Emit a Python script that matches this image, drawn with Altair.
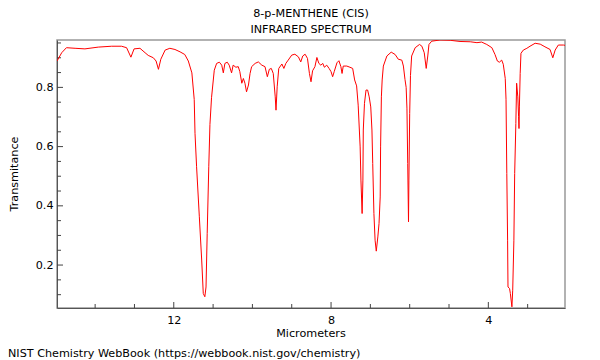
import altair as alt
import pandas as pd

# ---- data ----
wavelength_um = [
    14.97, 14.85, 14.73, 14.51, 14.26, 13.92, 13.58, 13.33, 13.20, 13.09,
    13.01, 12.86, 12.73, 12.65, 12.52, 12.45, 12.39, 12.33, 12.22, 12.10,
    11.97, 11.84, 11.72, 11.63, 11.54, 11.48, 11.46, 11.42, 11.35, 11.29,
    11.25, 11.21, 11.18, 11.15, 11.11, 11.08, 11.04, 10.97, 10.91, 10.84,
    10.78, 10.74, 10.70, 10.64, 10.59, 10.53, 10.49, 10.42, 10.36, 10.32,
    10.27, 10.23, 10.19, 10.15, 10.10, 10.06, 10.02, 9.93, 9.85, 9.76,
    9.68, 9.62, 9.57, 9.52, 9.47, 9.42, 9.40, 9.37, 9.33, 9.25,
    9.20, 9.15, 9.09, 9.00, 8.92, 8.83, 8.77, 8.72, 8.66, 8.60,
    8.55, 8.51, 8.47, 8.41, 8.36, 8.31, 8.26, 8.21, 8.17, 8.11,
    8.05, 8.00, 7.96, 7.92, 7.85, 7.80, 7.75, 7.72, 7.69, 7.60,
    7.52, 7.45, 7.40, 7.35, 7.31, 7.26, 7.24, 7.21, 7.19, 7.18,
    7.15, 7.11, 7.07, 7.03, 6.99, 6.96, 6.94, 6.91, 6.88, 6.85,
    6.81, 6.78, 6.75, 6.74, 6.72, 6.70, 6.67, 6.58, 6.47, 6.37,
    6.29, 6.20, 6.16, 6.12, 6.09, 6.07, 6.05, 6.03, 6.02, 6.00,
    5.98, 5.95, 5.86, 5.75, 5.69, 5.63, 5.58, 5.54, 5.51, 5.44,
    5.23, 4.97, 4.72, 4.46, 4.29, 4.17, 4.04, 3.91, 3.83, 3.77,
    3.72, 3.66, 3.62, 3.57, 3.55, 3.53, 3.51, 3.50, 3.46, 3.44,
    3.40, 3.38, 3.35, 3.33, 3.30, 3.28, 3.25, 3.23, 3.22, 3.21,
    3.19, 3.17, 3.11, 3.02, 2.94, 2.81, 2.68, 2.56, 2.43, 2.36,
    2.30, 2.22, 2.09, 2.05,
]
transmittance = [
    0.889, 0.917, 0.934, 0.932, 0.930, 0.936, 0.939, 0.939, 0.934, 0.902,
    0.930, 0.932, 0.917, 0.908, 0.900, 0.889, 0.861, 0.895, 0.926, 0.932,
    0.928, 0.920, 0.911, 0.889, 0.849, 0.759, 0.645, 0.532, 0.363, 0.217,
    0.104, 0.093, 0.126, 0.307, 0.532, 0.675, 0.765, 0.858, 0.881, 0.885,
    0.875, 0.849, 0.881, 0.885, 0.875, 0.849, 0.875, 0.868, 0.870, 0.853,
    0.814, 0.830, 0.814, 0.785, 0.808, 0.847, 0.870, 0.881, 0.886, 0.875,
    0.870, 0.836, 0.861, 0.864, 0.847, 0.768, 0.723, 0.802, 0.864, 0.879,
    0.864, 0.881, 0.892, 0.909, 0.912, 0.903, 0.886, 0.906, 0.912, 0.898,
    0.847, 0.819, 0.856, 0.870, 0.901, 0.881, 0.875, 0.881, 0.868, 0.875,
    0.864, 0.853, 0.836, 0.853, 0.883, 0.890, 0.870, 0.847, 0.872, 0.872,
    0.868, 0.864, 0.825, 0.805, 0.740, 0.599, 0.487, 0.374, 0.487, 0.656,
    0.746, 0.791, 0.791, 0.768, 0.734, 0.656, 0.543, 0.374, 0.284, 0.247,
    0.295, 0.340, 0.430, 0.599, 0.768, 0.825, 0.872, 0.906, 0.919, 0.911,
    0.895, 0.892, 0.872, 0.827, 0.800, 0.730, 0.543, 0.346, 0.487, 0.712,
    0.840, 0.906, 0.934, 0.945, 0.939, 0.917, 0.864, 0.906, 0.945, 0.956,
    0.960, 0.959, 0.955, 0.954, 0.951, 0.953, 0.945, 0.934, 0.911, 0.889,
    0.885, 0.892, 0.878, 0.830, 0.760, 0.509, 0.284, 0.126, 0.121, 0.104,
    0.059, 0.115, 0.284, 0.509, 0.678, 0.814, 0.768, 0.701, 0.661, 0.734,
    0.847, 0.915, 0.926, 0.932, 0.939, 0.949, 0.946, 0.937, 0.928, 0.900,
    0.926, 0.943, 0.943, 0.942,
]

x_major_ticks = [12, 8, 4]
x_minor_ticks = [14, 13, 11, 10, 9, 7, 6, 5, 3]
y_major_ticks = [0.2, 0.4, 0.6, 0.8]
y_minor_ticks = [0.1, 0.15, 0.25, 0.3, 0.35, 0.45, 0.5, 0.55, 0.65, 0.7,
                 0.75, 0.85, 0.9, 0.95]

title_lines = ["8-p-MENTHENE (CIS)", "INFRARED SPECTRUM"]
x_title = ["Micrometers"]
y_title = ["Transmitance"]
footer = ["NIST Chemistry WebBook (https://webbook.nist.gov/chemistry)"]

X_DOMAIN = [2.05, 14.97]
Y_DOMAIN = [0.055, 0.96]

W, H = 508, 268
FONT = "DejaVu Sans"
FS = 11.2

df = pd.DataFrame({"um": wavelength_um, "T": transmittance,
                   "idx": list(range(len(wavelength_um)))})

xs = alt.Scale(domain=X_DOMAIN, nice=False, zero=False, reverse=True)
ys = alt.Scale(domain=Y_DOMAIN, nice=False, zero=False)

line = alt.Chart(df).mark_line(color="#ff0000", strokeWidth=1, clip=True).encode(
    x=alt.X("um:Q", scale=xs,
            axis=alt.Axis(values=x_major_ticks, format="d", ticks=False, grid=False,
                          title=None, domainColor="#555555", labelPadding=6,
                          labelFontSize=FS, labelFont=FONT, labelColor="#000000")),
    y=alt.Y("T:Q", scale=ys,
            axis=alt.Axis(values=y_major_ticks, format=".1f", ticks=False, grid=False,
                          title=None, domainColor="#555555", labelPadding=4,
                          labelFontSize=FS, labelFont=FONT, labelColor="#000000")),
    order="idx:Q",
)

def xticks(vals, length):
    d = pd.DataFrame({"um": vals})
    return alt.Chart(d).mark_rule(color="#444444", strokeWidth=1).encode(
        x=alt.X("um:Q", scale=xs), y=alt.value(H), y2=alt.value(H - length))

def yticks(vals, length):
    d = pd.DataFrame({"T": vals})
    return alt.Chart(d).mark_rule(color="#444444", strokeWidth=1).encode(
        y=alt.Y("T:Q", scale=ys), x=alt.value(0), x2=alt.value(length))

def label(texts, x, y, align="center", angle=0, size=FS):
    d = pd.DataFrame({"t": texts})
    return alt.Chart(d).mark_text(align=align, baseline="middle", angle=angle,
                                  font=FONT, fontSize=size, color="#000000").encode(
        x=alt.value(x), y=alt.value(y), text="t:N")

chart = alt.layer(
    xticks(x_minor_ticks, 4), xticks(x_major_ticks, 6),
    yticks(y_minor_ticks, 4), yticks(y_major_ticks, 6),
    line,
    label([title_lines[0]], W / 2, -26),
    label([title_lines[1]], W / 2, -10),
    label(x_title, W / 2, H + 26),
    label(y_title, -42, H / 2, angle=270),
    label(footer, -49, H + 46, align="left"),
).properties(
    width=W, height=H,
    autosize=alt.AutoSizeParams(type="none"),
    padding={"left": 49, "top": 32, "right": 20, "bottom": 52},
).configure_view(stroke="#999999", strokeWidth=1.5)

chart.save("out.html", embed_options={"renderer": "svg", "actions": False})
